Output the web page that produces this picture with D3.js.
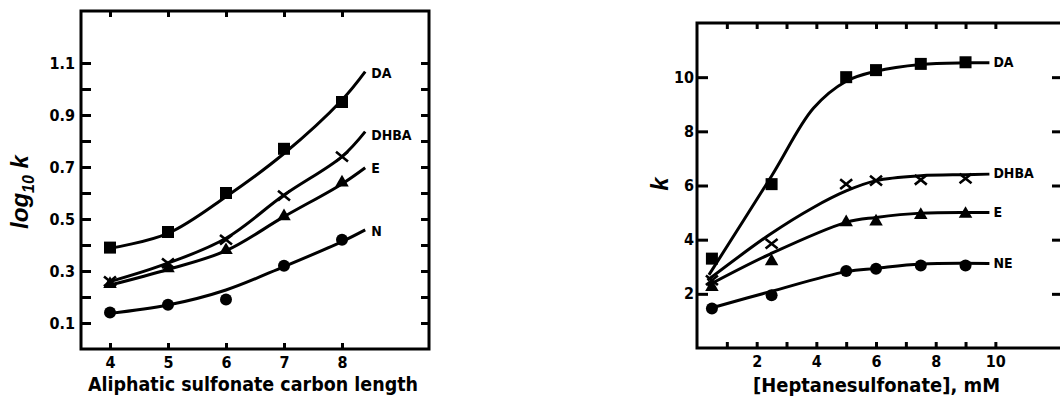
<!DOCTYPE html>
<html><head><meta charset="utf-8">
<script src="https://cdn.jsdelivr.net/npm/d3@7"></script>
<style>
html,body{margin:0;padding:0;background:#fff;}
svg{display:block;}
text{font-family:"DejaVu Sans Condensed","DejaVu Sans",sans-serif;font-weight:bold;fill:#000;}
</style></head>
<body>
<svg id="chart" width="1060" height="396"></svg>
<script>
// ---------- Left panel data ----------
const carbonLength = [4, 5, 6, 7, 8];
const carbonTickLabels = ["4", "5", "6", "7", "8"];
const logTicks = [0.1, 0.2, 0.3, 0.4, 0.5, 0.6, 0.7, 0.8, 0.9, 1.0, 1.1];
const logTickLabels = ["0.1", "", "0.3", "", "0.5", "", "0.7", "", "0.9", "", "1.1"];
const logDA = [0.39, 0.45, 0.60, 0.77, 0.95];
const logDHBA = [0.26, 0.33, 0.42, 0.59, 0.74];
const logE = [0.25, 0.31, 0.38, 0.51, 0.64];
const logN = [0.14, 0.17, 0.19, 0.32, 0.42];
// fitted curves (as drawn)
const fitCarbon = [4, 5, 6, 7, 8, 8.4];
const fitLogDA = [0.387, 0.445, 0.586, 0.752, 0.958, 1.067];
const fitLogDHBA = [0.259, 0.33, 0.426, 0.592, 0.74, 0.836];
const fitLogE = [0.246, 0.306, 0.378, 0.509, 0.635, 0.697];
const fitLogN = [0.137, 0.169, 0.227, 0.317, 0.413, 0.458];

// ---------- Right panel data ----------
const heptConc = [0.5, 2.5, 5, 6, 7.5, 9];
const concTicks = [1, 2, 3, 4, 5, 6, 7, 8, 9, 10];
const concTickLabels = ["", "2", "", "4", "", "6", "", "8", "", "10"];
const kTicks = [2, 4, 6, 8, 10];
const kTickLabels = ["2", "4", "6", "8", "10"];
const kDA = [3.3, 6.05, 10.0, 10.26, 10.49, 10.55];
const kDHBA = [2.5, 3.85, 6.05, 6.18, 6.21, 6.26];
const kE = [2.25, 3.2, 4.64, 4.67, 4.91, 4.95];
const kNE = [1.46, 1.95, 2.84, 2.93, 3.05, 3.05];
// fitted curves (as drawn)
const fitConcDA = [0.4, 2.5, 3.9, 5, 6, 7.5, 9, 9.8];
const fitKDA = [2.7, 6.35, 8.85, 9.85, 10.22, 10.47, 10.53, 10.53];
const fitConcDHBA = [0.35, 2.45, 3.9, 5, 6, 7.5, 9, 9.8];
const fitKDHBA = [2.5, 4.2, 5.19, 5.8, 6.18, 6.36, 6.40, 6.42];
const fitConcE = [0.35, 2.45, 5, 6, 7.5, 9.8];
const fitKE = [2.3, 3.47, 4.64, 4.82, 4.98, 5.0];
const fitConcNE = [0.45, 2.45, 5, 6, 7.5, 9.8];
const fitKNE = [1.47, 2.08, 2.82, 2.94, 3.1, 3.12];

const svg = d3.select("#chart");
const FONT = '"DejaVu Sans Condensed","DejaVu Sans",sans-serif';

function drawMarker(g, type, cx, cy, s) {
  if (type === "square") {
    g.append("rect").attr("x", cx - s/2).attr("y", cy - s/2).attr("width", s).attr("height", s).attr("fill", "#000");
  } else if (type === "circle") {
    g.append("circle").attr("cx", cx).attr("cy", cy).attr("r", s/2).attr("fill", "#000");
  } else if (type === "triangle") {
    g.append("path").attr("d", d3.symbol(d3.symbolTriangle, s*s*0.55)()).attr("transform", `translate(${cx},${cy})`).attr("fill", "#000");
  } else if (type === "x") {
    const h = s/2;
    g.append("path").attr("d", `M${cx-h},${cy-h*0.8}L${cx+h},${cy+h*0.8}M${cx-h},${cy+h*0.8}L${cx+h},${cy-h*0.8}`)
      .attr("stroke", "#000").attr("stroke-width", 2.6).attr("fill", "none");
  }
}

function panel(cfg) {
  const g = svg.append("g");
  const x = cfg.x, y = cfg.y;
  const [x0, x1] = x.range(), [y0, y1] = y.range();
  const left = g.append("g").attr("transform", `translate(${x0},0)`)
    .call(d3.axisLeft(y).tickValues(cfg.yTicks).tickSize(-cfg.yTickLen).tickPadding(cfg.yPad)
      .tickFormat((d, i) => cfg.yLabels[i]));
  const right = g.append("g").attr("transform", `translate(${x1},0)`)
    .call(d3.axisRight(y).tickValues(cfg.yTicks).tickSize(-cfg.yTickLenR).tickFormat(""));
  const bottom = g.append("g").attr("transform", `translate(0,${y0})`)
    .call(d3.axisBottom(x).tickValues(cfg.xTicks).tickSize(-6).tickPadding(cfg.xPad)
      .tickFormat((d, i) => cfg.xLabels[i]));
  const top = g.append("g").attr("transform", `translate(0,${y1})`)
    .call(d3.axisTop(x).tickValues(cfg.xTicks).tickSize(-6).tickFormat(""));
  [left, right, bottom, top].forEach(a => {
    a.select(".domain").remove();
    a.selectAll(".tick line").attr("stroke", "#000").attr("stroke-width", 3);
    a.selectAll(".tick text").attr("font-size", 16).attr("font-weight", "bold")
      .attr("font-family", FONT).attr("fill", "#000");
  });
  g.append("rect").attr("x", x0).attr("y", y1).attr("width", x1 - x0).attr("height", y0 - y1)
    .attr("fill", "none").attr("stroke", "#000").attr("stroke-width", 3);

  const line = d3.line().x(d => x(d[0])).y(d => y(d[1])).curve(d3.curveCatmullRom.alpha(0.5));
  cfg.series.forEach(s => {
    const pts = s.fx.map((v, i) => [v, s.fy[i]]);
    g.append("path").attr("d", line(pts)).attr("fill", "none").attr("stroke", "#000")
      .attr("stroke-width", cfg.lineW);
    const mg = g.append("g");
    s.px.forEach((v, i) => drawMarker(mg, s.marker, x(v), y(s.py[i]), cfg.markerSize));
    const last = pts[pts.length - 1];
    g.append("text").attr("x", x(last[0]) + cfg.labDx).attr("y", y(last[1]) + s.labDy)
      .attr("dominant-baseline", "middle").attr("font-size", 14).text(s.name);
  });
  return g;
}

// ----- Left panel -----
const xL = d3.scaleLinear().domain([3.5, 9.5]).range([81, 429]);
const yL = d3.scaleLinear().domain([0, 1.3]).range([349, 11]);
panel({
  x: xL, y: yL, yTicks: logTicks, yLabels: logTickLabels, yTickLen: 10, yTickLenR: 8, yPad: 6,
  xTicks: carbonLength, xLabels: carbonTickLabels, xPad: 8, lineW: 3, markerSize: 12, labDx: 6,
  series: [
    {name: "DA", marker: "square", px: carbonLength, py: logDA, fx: fitCarbon, fy: fitLogDA, labDy: 2},
    {name: "DHBA", marker: "x", px: carbonLength, py: logDHBA, fx: fitCarbon, fy: fitLogDHBA, labDy: 4},
    {name: "E", marker: "triangle", px: carbonLength, py: logE, fx: fitCarbon, fy: fitLogE, labDy: 1},
    {name: "N", marker: "circle", px: carbonLength, py: logN, fx: fitCarbon, fy: fitLogN, labDy: 2}
  ]
});
svg.append("text").attr("x", 88).attr("y", 391).attr("font-size", 20)
  .attr("textLength", 330).attr("lengthAdjust", "spacingAndGlyphs")
  .text("Aliphatic sulfonate carbon length");
const yt = svg.append("text").attr("transform", "translate(28,192) rotate(-90)")
  .attr("text-anchor", "middle").attr("font-size", 24).attr("font-style", "italic")
  .attr("font-weight", "normal").style("font-family", '"Liberation Sans",Arial,sans-serif');
yt.append("tspan").text("log");
yt.append("tspan").attr("font-size", 16).attr("dy", 6).text("10");
yt.append("tspan").attr("dy", -6).text(" k");

// ----- Right panel -----
const xR = d3.scaleLinear().domain([0, 12.3]).range([697, 1064]);
const yR = d3.scaleLinear().domain([0, 12]).range([348, 23]);
panel({
  x: xR, y: yR, yTicks: kTicks, yLabels: kTickLabels, yTickLen: 11, yTickLenR: 12, yPad: 3,
  xTicks: concTicks, xLabels: concTickLabels, xPad: 8, lineW: 3, markerSize: 12, labDx: 4,
  series: [
    {name: "DA", marker: "square", px: heptConc, py: kDA, fx: fitConcDA, fy: fitKDA, labDy: 0},
    {name: "DHBA", marker: "x", px: heptConc, py: kDHBA, fx: fitConcDHBA, fy: fitKDHBA, labDy: 0},
    {name: "E", marker: "triangle", px: heptConc, py: kE, fx: fitConcE, fy: fitKE, labDy: 0},
    {name: "NE", marker: "circle", px: heptConc, py: kNE, fx: fitConcNE, fy: fitKNE, labDy: 0}
  ]
});
svg.append("text").attr("x", 753).attr("y", 392).attr("font-size", 20)
  .attr("textLength", 247).attr("lengthAdjust", "spacingAndGlyphs")
  .text("[Heptanesulfonate], mM");
svg.append("text").attr("transform", "translate(668,184) rotate(-90)")
  .attr("text-anchor", "middle").attr("font-size", 24).attr("font-style", "italic")
  .attr("font-weight", "normal").style("font-family", '"Liberation Sans",Arial,sans-serif').text("k");
</script>
</body></html>
